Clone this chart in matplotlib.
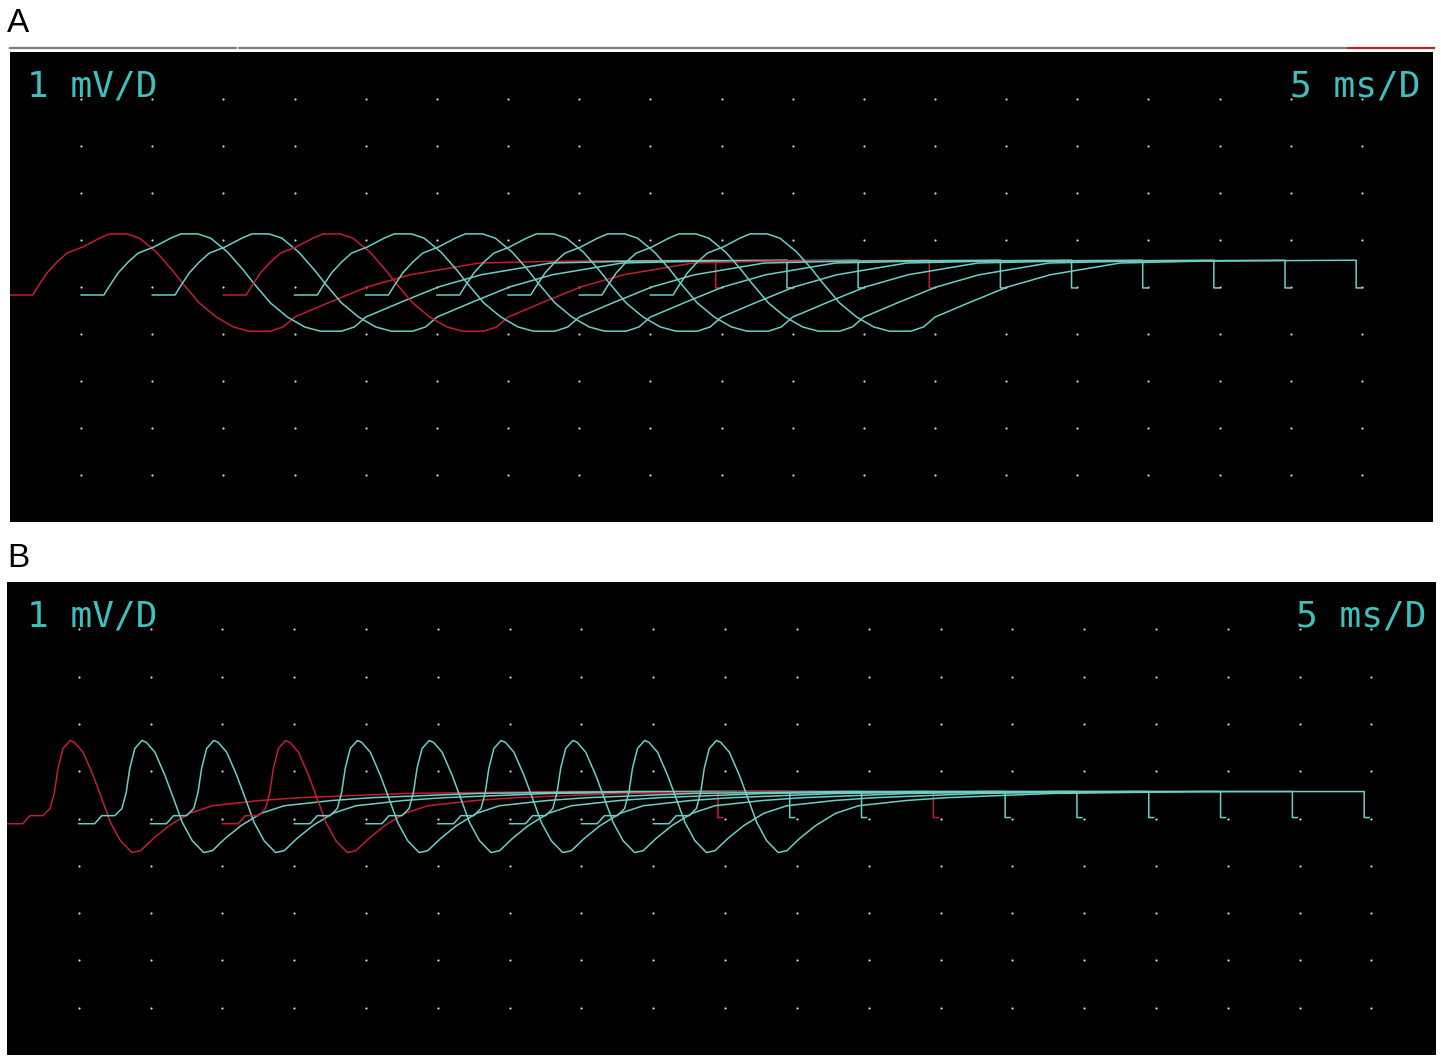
import numpy as np
import matplotlib
matplotlib.use("Agg")
import matplotlib.pyplot as plt
from matplotlib import font_manager
from matplotlib.lines import Line2D

# Waveform, panel A (time in ms from sweep start, amplitude in mV)
a_t = [0.0, 1.6, 1.9, 2.6, 3.3, 4.0, 5.1, 6.3, 7.0, 8.2, 9.1, 10.3, 11.4, 12.1,
       13.3, 14.5, 15.7, 16.8, 18.3, 19.2, 20.0, 22.5, 25.1, 28.1, 33.0, 38.6,
       49.6, 49.6, 50.0]
a_mv = [-0.17, -0.17, -0.02, 0.30, 0.53, 0.72, 0.85, 1.04, 1.13, 1.13, 1.04, 0.74,
        0.36, 0.09, -0.34, -0.64, -0.85, -0.94, -0.94, -0.85, -0.64, -0.32, 0.0,
        0.26, 0.51, 0.55, 0.57, -0.02, -0.02]

# panel B
b_t = [0.0, 1.1, 1.6, 2.5, 3.0, 3.3, 3.55, 3.9, 4.4, 4.7, 5.3, 6.0, 6.6, 7.2,
       7.9, 8.7, 9.3, 10.2, 11.3, 12.7, 14.3, 17.6, 20.4, 27.8, 38.3, 49.5,
       49.5, 49.85]
b_mv = [-0.11, -0.11, 0.06, 0.06, 0.21, 0.55, 1.06, 1.48, 1.65, 1.61, 1.40, 0.91,
        0.42, -0.08, -0.47, -0.72, -0.68, -0.42, -0.15, 0.11, 0.27, 0.38, 0.44,
        0.53, 0.57, 0.57, 0.02, 0.02]

# sweep onsets (ms) and trace colours
onsets = [0, 5, 10, 15, 20, 25, 30, 35, 40, 45]
colors = ["r", "c", "c", "r", "c", "c", "c", "c", "c", "c"]
RED = "#c21f2c"
CYAN = "#6ccfc6"
TXT = "#3fbfbd"

W, H = 1441, 1061
fig = plt.figure(figsize=(W / 100, H / 100), dpi=100)
fig.patch.set_facecolor("white")

names = {f.name for f in font_manager.fontManager.ttflist}
if "Liberation Sans Narrow" in names:
    scr_font, scr_size = "Liberation Sans Narrow", 33
else:
    scr_font, scr_size = "DejaVu Sans Mono", 26


def px_axes(x0, y0, x1, y1):
    return fig.add_axes([x0 / W, 1 - y1 / H, (x1 - x0) / W, (y1 - y0) / H])


def fx(x):
    return x / W


def fy(y):
    return 1 - y / H


def scope(ax, t, mv, xmax):
    ax.set_facecolor("black")
    ax.set_xlim(0, xmax)
    ax.set_ylim(-5, 5)
    ax.set_xticks([])
    ax.set_yticks([])
    for s in ax.spines.values():
        s.set_visible(False)
    gx, gy = np.meshgrid(np.arange(5, 100, 5), np.arange(-4, 5, 1))
    ax.scatter(gx.ravel(), gy.ravel(), s=2.5, color="#d8d8d8", lw=0, zorder=1)
    for on, c in zip(onsets, colors):
        ax.plot(np.array(t) + on, mv, color=RED if c == "r" else CYAN, lw=1.1, zorder=2)


axA = px_axes(10, 52, 1433, 522)
scope(axA, a_t, a_mv, 100)
axB = px_axes(7, 582, 1436, 1055)
scope(axB, b_t, b_mv, 99.5)

# screen header bar above A
fig.add_artist(Line2D([fx(10), fx(1346)], [fy(48), fy(48)], color="#7c7c7c", lw=1.6))
fig.add_artist(Line2D([fx(1348), fx(1434)], [fy(48), fy(48)], color="#b3262c", lw=1.6))
fig.add_artist(Line2D([fx(236.5), fx(236.5)], [fy(46), fy(50)], color="white", lw=1.0))

# scale labels
for base in (97, 627):
    fig.text(fx(27), fy(base), "1 mV/D", color=TXT, family=scr_font, fontsize=scr_size,
             ha="left", va="baseline")
fig.text(fx(1420), fy(97), "5 ms/D", color=TXT, family=scr_font, fontsize=scr_size,
         ha="right", va="baseline")
fig.text(fx(1427), fy(627), "5 ms/D", color=TXT, family=scr_font, fontsize=scr_size,
         ha="right", va="baseline")

# panel letters
fig.text(fx(7), fy(32), "A", family="Liberation Sans", fontsize=24, ha="left", va="baseline")
fig.text(fx(7), fy(567), "B", family="Liberation Sans", fontsize=24, ha="left", va="baseline")

fig.savefig("out.png", dpi=100)
